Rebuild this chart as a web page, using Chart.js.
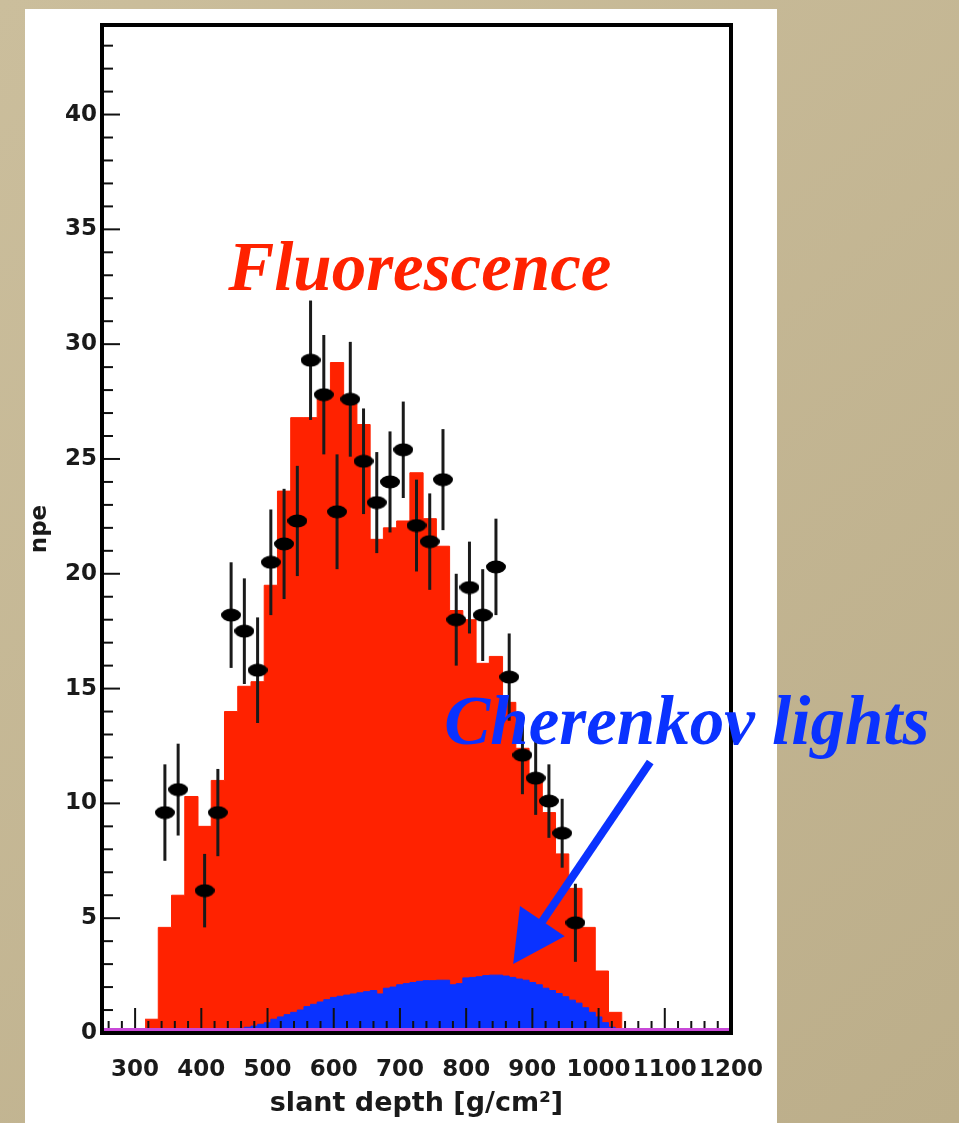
<!DOCTYPE html>
<html lang="pt-br">
<head>
<meta charset="utf-8">
<title>npe x slant depth</title>
<script src="https://cdn.jsdelivr.net/npm/chart.js@4.4.1/dist/chart.umd.min.js"></script>
<style>
    html, body { margin: 0; padding: 0; background: #c7ba97; }
    #grafico { display: block; }
</style>
</head>
<body>
<canvas id="grafico" width="959" height="1123"></canvas>
<script>
// Histograma de fluorescência: borda esquerda de cada bin (g/cm2) e npe
const binsFluorescencia = [315, 335, 355, 375, 395, 415, 435, 455, 475, 495, 515, 535,
    555, 575, 595, 615, 635, 655, 675, 695, 715, 735, 755, 775,
    795, 815, 835, 855, 875, 895, 915, 935, 955, 975, 995, 1015];
const valoresFluorescencia = [0.6, 4.6, 6.0, 10.3, 9.0, 11.0, 14.0, 15.1, 15.3, 19.5, 23.6, 26.8,
    26.8, 27.6, 29.2, 27.4, 26.5, 21.5, 22.0, 22.3, 24.4, 22.4, 21.2, 18.4,
    18.0, 16.1, 16.4, 14.4, 12.4, 11.1, 9.6, 7.8, 6.3, 4.6, 2.7, 0.9];
const larguraFluorescencia = 20;

// Histograma Cherenkov (bins de 10 g/cm2)
const binsCherenkov = [375, 385, 395, 405, 415, 425, 435, 445, 455, 465,
    475, 485, 495, 505, 515, 525, 535, 545, 555, 565,
    575, 585, 595, 605, 615, 625, 635, 645, 655, 665,
    675, 685, 695, 705, 715, 725, 735, 745, 755, 765,
    775, 785, 795, 805, 815, 825, 835, 845, 855, 865,
    875, 885, 895, 905, 915, 925, 935, 945, 955, 965,
    975, 985, 995, 1005, 1015, 1025];
const valoresCherenkov = [0.03, 0.05, 0.05, 0.08, 0.10, 0.12, 0.15, 0.18, 0.20, 0.25,
    0.30, 0.38, 0.45, 0.60, 0.70, 0.80, 0.90, 1.00, 1.15, 1.25,
    1.35, 1.45, 1.55, 1.60, 1.65, 1.70, 1.75, 1.80, 1.85, 1.70,
    1.95, 2.00, 2.10, 2.15, 2.20, 2.25, 2.28, 2.28, 2.30, 2.30,
    2.10, 2.15, 2.40, 2.42, 2.45, 2.50, 2.52, 2.52, 2.48, 2.42,
    2.35, 2.30, 2.20, 2.10, 1.95, 1.85, 1.72, 1.58, 1.43, 1.30,
    1.10, 0.90, 0.70, 0.45, 0.25, 0.05];
const larguraCherenkov = 10;

// Pontos medidos com barras de erro
const profundidades = [345, 365, 405, 425, 445, 465, 485, 505, 525, 545, 565, 585, 605, 625, 645, 665,
    685, 705, 725, 745, 765, 785, 805, 825, 845, 865, 885, 905, 925, 945, 965];
const npeMedido = [9.6, 10.6, 6.2, 9.6, 18.2, 17.5, 15.8, 20.5, 21.3, 22.3, 29.3, 27.8, 22.7, 27.6, 24.9, 23.1,
    24.0, 25.4, 22.1, 21.4, 24.1, 18.0, 19.4, 18.2, 20.3, 15.5, 12.1, 11.1, 10.1, 8.7, 4.8];
const erroMedido = [2.1, 2.0, 1.6, 1.9, 2.3, 2.3, 2.3, 2.3, 2.4, 2.4, 2.6, 2.6, 2.5, 2.5, 2.3, 2.2,
    2.2, 2.1, 2.0, 2.1, 2.2, 2.0, 2.0, 2.0, 2.1, 1.9, 1.7, 1.6, 1.6, 1.5, 1.7];

// Rótulos dos eixos
const ticksX = [300, 400, 500, 600, 700, 800, 900, 1000, 1100, 1200];
const ticksY = [0, 5, 10, 15, 20, 25, 30, 35, 40];
const passoMenorX = 20;
const passoMenorY = 1;

const VERMELHO = '#ff2200';
const AZUL = '#0a32ff';

// Transforma bins em pontos para a linha em degrau
function montarHistograma(bordas, valores, largura) {
    const pontos = bordas.map((b, i) => ({ x: b, y: valores[i] }));
    pontos.push({ x: bordas[bordas.length - 1] + largura, y: 0 });
    return pontos;
}

// Marcador elíptico preto (igual ao do ROOT)
function criarMarcador() {
    const c = document.createElement('canvas');
    c.width = 20;
    c.height = 14;
    const g = c.getContext('2d');
    g.fillStyle = '#000';
    g.beginPath();
    g.ellipse(10, 7, 10, 6.5, 0, 0, Math.PI * 2);
    g.fill();
    return c;
}

const fundo = {
    id: 'fundo',
    beforeDraw(chart) {
        const ctx = chart.ctx;
        ctx.save();
        const grad = ctx.createLinearGradient(0, 0, chart.width, chart.height);
        grad.addColorStop(0, '#cbbe9c');
        grad.addColorStop(1, '#bcae8a');
        ctx.fillStyle = grad;
        ctx.fillRect(0, 0, chart.width, chart.height);
        ctx.fillStyle = '#ffffff';
        ctx.fillRect(25, 9, 752, chart.height - 9);
        ctx.restore();
    }
};

const barrasErro = {
    id: 'barrasErro',
    beforeDatasetDraw(chart, args) {
        if (args.index !== 0) return;
        const { ctx, scales: { x, y } } = chart;
        ctx.save();
        ctx.strokeStyle = '#1a1a1a';
        ctx.lineWidth = 3;
        profundidades.forEach((p, i) => {
            const px = x.getPixelForValue(p);
            ctx.beginPath();
            ctx.moveTo(px, y.getPixelForValue(npeMedido[i] - erroMedido[i]));
            ctx.lineTo(px, y.getPixelForValue(npeMedido[i] + erroMedido[i]));
            ctx.stroke();
        });
        ctx.restore();
    }
};

// Moldura, marcas dos eixos e linha de base
const moldura = {
    id: 'moldura',
    afterDatasetsDraw(chart) {
        const { ctx, chartArea: a, scales: { x, y } } = chart;
        ctx.save();

        ctx.strokeStyle = '#111';
        ctx.lineWidth = 2;
        for (let v = Math.ceil(x.min / passoMenorX) * passoMenorX; v < x.max; v += passoMenorX) {
            const px = x.getPixelForValue(v);
            const tam = ticksX.includes(v) ? 25 : 12;
            ctx.beginPath();
            ctx.moveTo(px, a.bottom);
            ctx.lineTo(px, a.bottom - tam);
            ctx.stroke();
        }
        for (let v = passoMenorY; v < y.max; v += passoMenorY) {
            const py = y.getPixelForValue(v);
            const tam = ticksY.includes(v) ? 18 : 11;
            ctx.beginPath();
            ctx.moveTo(a.left, py);
            ctx.lineTo(a.left + tam, py);
            ctx.stroke();
        }

        ctx.strokeStyle = '#000';
        ctx.lineWidth = 4;
        ctx.strokeRect(a.left, a.top, a.right - a.left, a.bottom - a.top);

        // linha de base magenta do histograma
        ctx.strokeStyle = '#c848d8';
        ctx.lineWidth = 3;
        ctx.beginPath();
        ctx.moveTo(a.left + 2, y.getPixelForValue(0) - 3.5);
        ctx.lineTo(a.right - 2, y.getPixelForValue(0) - 3.5);
        ctx.stroke();
        ctx.restore();
    }
};

// Textos e seta (posições em coordenadas dos dados)
const anotacoes = {
    id: 'anotacoes',
    afterDraw(chart) {
        const { ctx, scales: { x, y } } = chart;
        ctx.save();
        ctx.font = 'italic bold 69px "Liberation Serif"';
        ctx.textBaseline = 'alphabetic';

        ctx.fillStyle = VERMELHO;
        ctx.textAlign = 'center';
        ctx.fillText('Fluorescence', x.getPixelForValue(730), y.getPixelForValue(32.35));

        ctx.fillStyle = AZUL;
        ctx.textAlign = 'left';
        ctx.fillText('Cherenkov lights', x.getPixelForValue(767), y.getPixelForValue(12.6));

        // Seta
        const x0 = x.getPixelForValue(1078), y0 = y.getPixelForValue(11.8);
        const x1 = x.getPixelForValue(871), y1 = y.getPixelForValue(3.0);
        const dx = x1 - x0, dy = y1 - y0;
        const len = Math.hypot(dx, dy);
        const ux = dx / len, uy = dy / len;
        const bx = x1 - ux * 52, by = y1 - uy * 52;
        ctx.strokeStyle = AZUL;
        ctx.fillStyle = AZUL;
        ctx.lineWidth = 8;
        ctx.beginPath();
        ctx.moveTo(x0, y0);
        ctx.lineTo(bx + ux * 4, by + uy * 4);
        ctx.stroke();
        ctx.beginPath();
        ctx.moveTo(x1, y1);
        ctx.lineTo(bx - uy * 27, by + ux * 27);
        ctx.lineTo(bx + uy * 27, by - ux * 27);
        ctx.closePath();
        ctx.fill();
        ctx.restore();
    }
};

const fonteEixo = { family: '"DejaVu Sans"', weight: 'bold', size: 23 };

const ctx = document.getElementById('grafico').getContext('2d');

const meuGrafico = new Chart(ctx, {
    type: 'line',
    data: {
        datasets: [
            {
                label: 'dados',
                type: 'scatter',
                data: profundidades.map((p, i) => ({ x: p, y: npeMedido[i] })),
                pointStyle: criarMarcador(),
                order: 0
            },
            {
                label: 'Cherenkov',
                data: montarHistograma(binsCherenkov, valoresCherenkov, larguraCherenkov),
                stepped: true,
                fill: 'origin',
                backgroundColor: AZUL,
                borderColor: AZUL,
                borderWidth: 1,
                pointRadius: 0,
                order: 1
            },
            {
                label: 'Fluorescence',
                data: montarHistograma(binsFluorescencia, valoresFluorescencia, larguraFluorescencia),
                stepped: true,
                fill: 'origin',
                backgroundColor: VERMELHO,
                borderColor: VERMELHO,
                borderWidth: 1,
                pointRadius: 0,
                order: 2
            }
        ]
    },
    options: {
        responsive: false,
        animation: false,
        layout: { padding: { left: 0, top: 25, right: 228, bottom: 0 } },
        plugins: {
            legend: { display: false },
            tooltip: { enabled: false }
        },
        scales: {
            x: {
                type: 'linear',
                min: 250,
                max: 1200,
                afterBuildTicks: (scale) => { scale.ticks = ticksX.map(v => ({ value: v })); },
                afterFit: (scale) => { scale.height = 90; },
                ticks: {
                    autoSkip: false,
                    maxRotation: 0,
                    padding: 23,
                    color: '#1a1a1a',
                    font: fonteEixo,
                    callback: (valor) => valor.toString()
                },
                grid: { display: false, drawTicks: false },
                border: { display: false },
                title: {
                    display: true,
                    text: 'slant depth [g/cm²]',
                    color: '#1a1a1a',
                    font: { family: '"DejaVu Sans"', weight: 'bold', size: 27 },
                    padding: { top: 0, bottom: 3 }
                }
            },
            y: {
                type: 'linear',
                min: 0,
                max: 43.9,
                afterBuildTicks: (scale) => { scale.ticks = ticksY.map(v => ({ value: v })); },
                afterFit: (scale) => { scale.width = 102; },
                ticks: {
                    padding: 5,
                    color: '#1a1a1a',
                    font: fonteEixo,
                    callback: (valor) => valor.toString()
                },
                grid: { display: false, drawTicks: false },
                border: { display: false },
                title: {
                    display: true,
                    text: 'npe',
                    color: '#1a1a1a',
                    font: { family: '"DejaVu Sans"', weight: 'bold', size: 23 },
                    padding: { top: 26, bottom: 0 }
                }
            }
        }
    },
    plugins: [fundo, barrasErro, moldura, anotacoes]
});
</script>
</body>
</html>
